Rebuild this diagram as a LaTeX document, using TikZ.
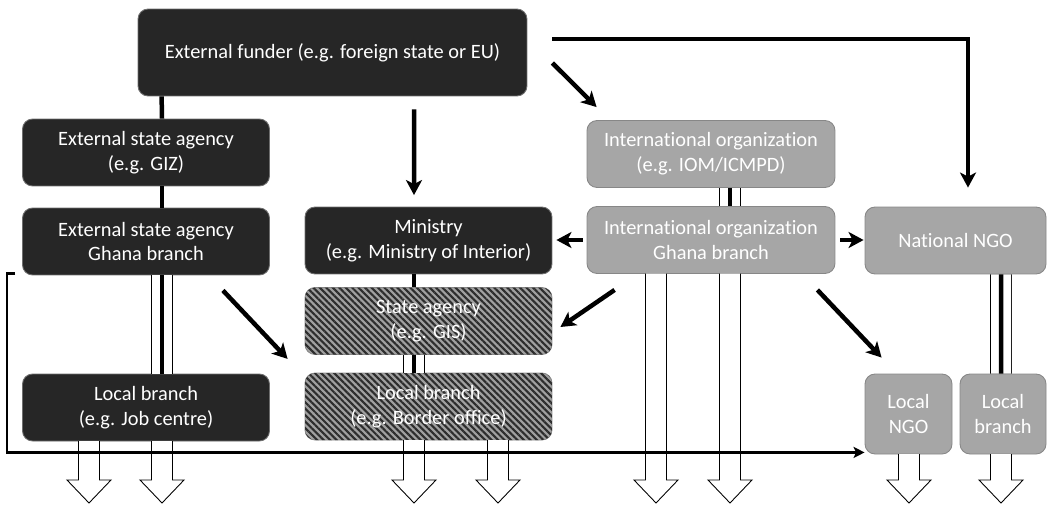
\documentclass[tikz,border=0pt]{standalone}
\usepackage{fontspec}
\setmainfont{Carlito}[Ligatures=NoCommon]
\usepackage{tikz}
\usetikzlibrary{arrows.meta,patterns.meta,positioning}
\usepackage{xcolor}
\definecolor{orgdark}{RGB}{38,38,38}
\definecolor{orgdarkline}{RGB}{110,110,110}
\definecolor{orggrey}{RGB}{166,166,166}
\definecolor{orggreyline}{RGB}{135,135,135}
\definecolor{hatchbase}{RGB}{160,160,160}
\definecolor{hatchline}{RGB}{45,45,45}
\tikzstyle{unit} = [rectangle, rounded corners=0.2cm, minimum width=4.94cm, minimum height=1.34cm, inner sep=0pt, align=center, text=white, line width=0.5pt, font=\fontsize{11.6}{14.2}\selectfont]
\tikzstyle{darkunit} = [unit, fill=orgdark, draw=orgdarkline]
\tikzstyle{greyunit} = [unit, fill=orggrey, draw=orggreyline]
\tikzstyle{hatchunit} = [unit, fill=hatchbase, draw=orggreyline, postaction={pattern={Lines[angle=-45,distance=2.6pt,line width=1.2pt]}, pattern color=hatchline}]
\tikzstyle{arrow} = [line width=0.09cm, -{Stealth[length=0.3cm,width=0.32cm,inset=0.08cm]}]
\tikzstyle{link} = [line width=0.09cm]
\tikzstyle{feed} = [line width=0.05cm, -{Stealth[length=0.22cm,width=0.22cm,inset=0.05cm]}]
\tikzstyle{channel} = [line width=0.5pt, double=white, double distance=0.4cm]
\tikzstyle{hollow} = [line width=0.5pt, draw=black, fill=white]

\begin{document}
\begin{tikzpicture}[x=0.02cm, y=-0.02cm]
\useasboundingbox (0,0) rectangle (1047,504);

% organisations
\node[darkunit, minimum width=7.78cm, minimum height=1.74cm] (funder) at (332.5,52.5) {External funder (e.g. foreign state or EU)};
\node[darkunit] (giz) at (146,152.5) {External state agency\\(e.g. GIZ)};
\node[darkunit] (extgh) at (146,241.5) {External state agency\\Ghana branch};
\node[darkunit] (jobc) at (146,407.5) {Local branch\\(e.g. Job centre)};
\node[darkunit] (ministry) at (428.5,240.5) {Ministry\\(e.g. Ministry of Interior)};
\node[hatchunit] (stateag) at (428.5,321) {State agency\\(e.g. GIS)};
\node[hatchunit] (border) at (428.5,406.5) {Local branch\\(e.g. Border office)};
\node[greyunit, minimum width=4.96cm] (io) at (711,154) {International organization\\(e.g. IOM/ICMPD)};
\node[greyunit, minimum width=4.96cm] (iogh) at (711,240) {International organization\\Ghana branch};
\node[greyunit, minimum width=3.62cm] (natngo) at (955.5,240.5) {National NGO};
\node[greyunit, minimum width=1.74cm, minimum height=1.6cm] (locngo) at (908.5,414) {Local\\NGO};
\node[greyunit, minimum width=1.72cm, minimum height=1.6cm] (locbr) at (1003,414) {Local\\branch};

% hierarchy lines
\draw[link] ([shift={(24,0)}]funder.south west) -- ([shift={(16,0)}]giz.north);
\draw[link] ([shift={(16,0)}]giz.south) -- ([shift={(16,0)}]extgh.north);
\draw[link] ([shift={(-14.5,0)}]ministry.south) -- ([shift={(-14.5,0)}]stateag.north);

% channels
\draw[channel] ([shift={(16,0)}]extgh.south) -- ([shift={(16,0)}]jobc.north);
\draw[link] ([shift={(16,0)}]extgh.south) -- ([shift={(16,0)}]jobc.north);
\draw[channel] ([shift={(-14.5,0)}]stateag.south) -- ([shift={(-14.5,0)}]border.north);
\draw[link] ([shift={(-14.5,0)}]stateag.south) -- ([shift={(-14.5,0)}]border.north);
\draw[channel] ([shift={(19,0)}]io.south) -- ([shift={(19,0)}]iogh.north);
\draw[link] ([shift={(19,0)}]io.south) -- ([shift={(19,0)}]iogh.north);
\draw[channel] ([shift={(45.5,0)}]natngo.south) -- ([shift={(-2,0)}]locbr.north);
\draw[link] ([shift={(45.5,0)}]natngo.south) -- ([shift={(-2,0)}]locbr.north);

% funding arrows
\draw[arrow] ([shift={(25,10.5)}]funder.east) -- ([shift={(10,-13)}]io.north west);
\draw[arrow] ([shift={(81.5,13)}]funder.south) -- ([shift={(-14.5,-11.5)}]ministry.north);
\draw[arrow] ([shift={(25,-13.5)}]funder.east) -| ([shift={(12.5,-19)}]natngo.north);
\draw[arrow, shorten <=0.08cm, shorten >=0.08cm] (iogh.west) -- (iogh.west -| ministry.east);
\draw[arrow, shorten <=0.1cm, shorten >=0.02cm] (iogh.east) -- (iogh.east -| natngo.west);
\draw[arrow] ([shift={(28,16)}]iogh.south west) -- ([shift={(8,6)}]stateag.east);
\draw[arrow] ([shift={(-18,16)}]iogh.south east) -- ([shift={(17,-16)}]locngo.north west);
\draw[arrow] ([shift={(-47,15)}]extgh.south east) -- ([shift={(-17,4)}]stateag.south west);

% outflows
\foreach \x/\y in {89/441,162/441,414/440,498/440,656/273.5,730/273.5,909/454,1001/454}
  \draw[hollow] (\x-10.5,\y) -- (\x-10.5,480) -- (\x-22,480) -- (\x,503) -- (\x+22,480) -- (\x+10.5,480) -- (\x+10.5,\y);

\draw[feed] ([shift={(-7,-2)}]extgh.south west) -- ++(-8,0) |- ([shift={(0,-2)}]locngo.south west);
\end{tikzpicture}
\end{document}
